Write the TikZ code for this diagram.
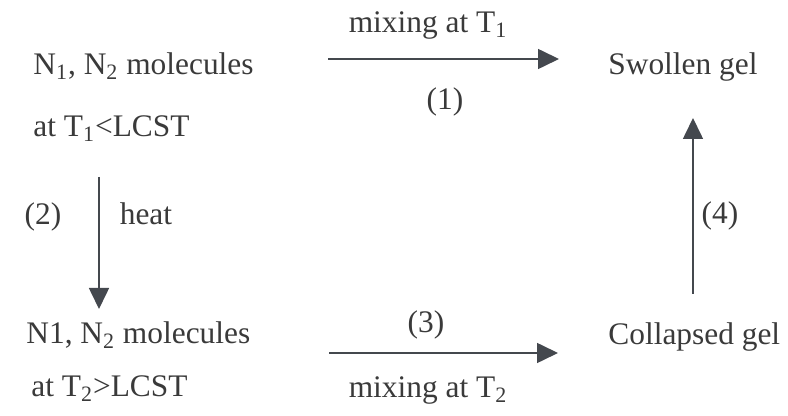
\documentclass[tikz,border=0pt]{standalone}
\usepackage{fontspec}
\setmainfont{Liberation Serif}
\usetikzlibrary{arrows.meta, positioning}
\definecolor{scanink}{RGB}{58, 58, 58}
\definecolor{scanarrow}{RGB}{68, 72, 78}
\newcommand{\lo}[1]{\textsubscript{#1}}

\begin{document}
\begin{tikzpicture}[x=0.5pt, y=-0.5pt, font=\fontsize{15.7}{18}\selectfont, text=scanink,
    lbl/.style={inner sep=0pt, anchor=base west},
    num/.style={inner sep=0pt, anchor=base},
    arr/.style={-{Triangle[length=10.5pt, width=10pt]}, line width=0.8pt, scanarrow}]
    \useasboundingbox (0,0) rectangle (788,416);

    % states
    \node[lbl] (mola) at (33,75) {N\lo{1}, N\lo{2} molecules};
    \node[lbl] (mola2) at (33,137) {at T\lo{1}<LCST};
    \node[lbl] (swollen) at (608,75) {Swollen gel};
    \node[lbl] (molb) at (26,344) {N1, N\lo{2} molecules};
    \node[lbl] (molb2) at (31,397) {at T\lo{2}>LCST};
    \node[lbl] (collapsed) at (608,345) {Collapsed gel};

    % step labels
    \node[num] (mix1) at (428,33) {mixing at T\lo{1}};
    \node[num] (step1) at (445,110) {(1)};
    \node[num] (step2) at (43,225) {(2)};
    \node[num] (heat) at (146,225) {heat};
    \node[num] (step3) at (426,333) {(3)};
    \node[num] (mix2) at (428,398) {mixing at T\lo{2}};
    \node[num] (step4) at (720,224) {(4)};

    \draw[arr] (328,59) -- (559,59);
    \draw[arr] (mola2.south -| 99,0) ++(0,35) -- (99,309);
    \draw[arr] (329,353) -- (558,353);
    \draw[arr] (collapsed.north -| 693,0) ++(0,-29) -- (693,118);
\end{tikzpicture}
\end{document}
